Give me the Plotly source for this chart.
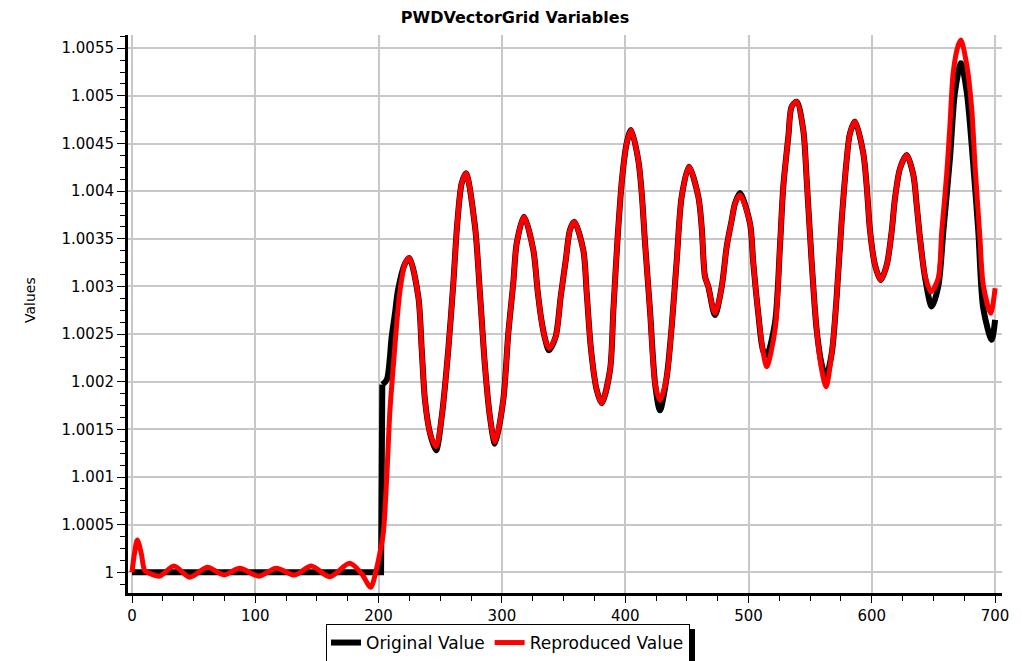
import plotly.graph_objects as go

# ---- data ----
x_rep = [0, 2, 4.3, 7.5, 10.3, 14.3, 22.4, 34, 46.8, 61, 74.6, 87.3, 103, 117, 132, 145.4,
         160.3, 176.5, 186, 193.6, 198, 201, 203.8, 206.6, 209.2, 211.9, 214.7, 217.4, 221.4,
         224.9, 232.2, 235.0, 237.6, 241.7, 246.6, 251.2, 256.5, 260.6, 263.8, 267.4, 270.9,
         278.2, 282.2, 286.3, 290.3, 294.4, 301.1, 305.2, 309.2, 312.0, 317.9, 325.5, 329, 332,
         335, 338.2, 343.6, 347.7, 351.8, 355.2, 358.7, 366.0, 368.8, 372.3, 376.9, 380.9,
         387.7, 390.4, 393.9, 397.6, 401.2, 404.7, 410.6, 413.4, 416.1, 420.1, 424.2, 428.2,
         433.7, 437.7, 441.8, 445.8, 451.7, 459.3, 462.0, 464.7, 467.4, 472.8, 478.3, 482.3,
         486.4, 489.1, 493.1, 501.2, 503.9, 507.9, 512.0, 514.8, 521.5, 525.5, 528.2, 532.3,
         535.0, 539.1, 544.4, 547.2, 551.3, 555.3, 559.4, 562.9, 567.5, 571.5, 575.6, 579.6,
         582.3, 586.4, 593.1, 595.9, 598.5, 602.6, 607.2, 612.1, 616.1, 618.8, 622.9, 628.3,
         633.7, 636.4, 639.1, 643.1, 648.0, 653.9, 656.7, 660.7, 663.4, 666.1, 670.2, 672.3,
         677.0, 681.0, 683.7, 687.7, 690.4, 696.4, 700]
y_rep = [1.0, 1.0002, 1.00034, 1.0002, 1.00002, 0.99999, 0.99996, 1.000066, 0.999948, 1.000052,
         0.999972, 1.000042, 0.99996, 1.000042, 0.999972, 1.000066, 0.999954, 1.000094, 0.99999,
         0.999843, 1.00002, 1.0002, 1.00041, 1.001, 1.0017, 1.00216, 1.00261, 1.00296, 1.00324,
         1.0033, 1.002893, 1.002333, 1.001808, 1.001459, 1.001318, 1.001633, 1.002333, 1.003033,
         1.003663, 1.004083, 1.004188, 1.003627, 1.002928, 1.002158, 1.001633, 1.001371,
         1.001808, 1.002509, 1.003033, 1.003453, 1.003732, 1.00338, 1.00295, 1.00265, 1.00245,
         1.002351, 1.002473, 1.002893, 1.003278, 1.003593, 1.00368, 1.003383, 1.002928, 1.002333,
         1.001913, 1.001774, 1.002123, 1.002753, 1.003522, 1.004152, 1.004503, 1.004642,
         1.004327, 1.003978, 1.003453, 1.002753, 1.001984, 1.001808, 1.002053, 1.002578,
         1.003278, 1.003942, 1.004257, 1.003942, 1.003627, 1.003103, 1.002998, 1.002718,
         1.002998, 1.003417, 1.003698, 1.003873, 1.00396, 1.003663, 1.003243, 1.002718,
         1.002299, 1.002158, 1.002543, 1.003417, 1.004047, 1.004572, 1.004887, 1.004939,
         1.004642, 1.004118, 1.003243, 1.002543, 1.002123, 1.001948, 1.002299, 1.002893,
         1.003698, 1.004327, 1.004608, 1.00473, 1.004398, 1.004047, 1.003593, 1.003225,
         1.003068, 1.003225, 1.003575, 1.003926, 1.00424, 1.00438, 1.00417, 1.003855, 1.003506,
         1.00312, 1.002945, 1.003086, 1.003575, 1.00417, 1.004695, 1.005254, 1.005535, 1.005587,
         1.005325, 1.00487, 1.004275, 1.003506, 1.003016, 1.002718, 1.002981]

x_orig = [0, 202, 203, 206.6, 210.6, 213.3, 215.7, 221.4, 224.9, 232.2, 235.0, 237.6, 241.7,
          246.6, 251.2, 256.5, 260.6, 263.8, 267.4, 270.9, 278.2, 282.2, 286.3, 290.3, 294.4,
          301.1, 305.2, 309.2, 312.0, 317.9, 325.5, 329, 332, 335, 338.2, 343.6, 347.7, 351.8,
          355.2, 358.7, 366.0, 368.8, 372.3, 376.9, 380.9, 387.7, 390.4, 393.9, 397.6, 401.2,
          404.7, 410.6, 413.4, 416.1, 420.1, 424.2, 428.2, 433.7, 437.7, 441.8, 445.8, 451.7,
          459.3, 462.0, 464.7, 467.4, 472.8, 478.3, 482.3, 486.4, 489.1, 493.1, 501.2, 503.9,
          507.9, 512.0, 514.8, 521.5, 525.5, 528.2, 532.3, 535.0, 539.1, 544.4, 547.2, 551.3,
          555.3, 559.4, 562.9, 567.5, 571.5, 575.6, 579.6, 582.3, 586.4, 593.1, 595.9, 598.5,
          602.6, 607.2, 612.1, 616.1, 618.8, 622.9, 628.3, 633.7, 636.4, 639.1, 643.1, 648.6,
          653.9, 658.0, 663.4, 667.5, 672.3, 677.0, 682.3, 686.4, 690.4, 697.2, 700]
y_orig = [1.0, 1.0, 1.00197, 1.00202, 1.00247, 1.00272, 1.00296, 1.00324, 1.0033, 1.002893,
          1.002333, 1.001808, 1.001459, 1.00128, 1.001633, 1.002333, 1.003033, 1.003663,
          1.004083, 1.004188, 1.003627, 1.002928, 1.002158, 1.001633, 1.00135, 1.001808,
          1.002509, 1.003033, 1.003453, 1.003732, 1.00338, 1.00295, 1.00265, 1.00245, 1.00233,
          1.002473, 1.002893, 1.003278, 1.003593, 1.00368, 1.003383, 1.002928, 1.002333,
          1.001913, 1.001774, 1.002123, 1.002753, 1.003522, 1.004152, 1.004503, 1.004642,
          1.004327, 1.003978, 1.003453, 1.002753, 1.001984, 1.0017, 1.002053, 1.002578,
          1.003278, 1.003942, 1.004257, 1.003942, 1.003627, 1.003103, 1.002998, 1.0027,
          1.002998, 1.003417, 1.003698, 1.003873, 1.00398, 1.003663, 1.003243, 1.002718,
          1.00232, 1.00228, 1.00262, 1.003417, 1.004047, 1.004572, 1.004887, 1.004939,
          1.004642, 1.004118, 1.003243, 1.002543, 1.00218, 1.00205, 1.002299, 1.002893,
          1.003698, 1.004327, 1.004608, 1.00473, 1.004398, 1.004047, 1.003593, 1.003225,
          1.003068, 1.003225, 1.003575, 1.003926, 1.00424, 1.00438, 1.00417, 1.003855, 1.003506,
          1.0031, 1.00279, 1.0030, 1.003575, 1.004345, 1.005044, 1.005343, 1.005044, 1.004275,
          1.003575, 1.002771, 1.00244, 1.00265]

y_tickvals = [1.0, 1.0005, 1.001, 1.0015, 1.002, 1.0025, 1.003, 1.0035, 1.004, 1.0045, 1.005, 1.0055]
y_ticktext = ["1", "1.0005", "1.001", "1.0015", "1.002", "1.0025", "1.003", "1.0035", "1.004",
              "1.0045", "1.005", "1.0055"]
x_tickvals = [0, 100, 200, 300, 400, 500, 600, 700]
x_ticktext = ["0", "100", "200", "300", "400", "500", "600", "700"]

# page body has an 8px margin: figure is placed at (8, 8) in the window
OFF = 8
W, H = 1022 - OFF, 661 - OFF
L, R, T, B = 128 - OFF, 20, 35 - OFF, 68
PW, PH = W - L - R, H - T - B


def cx(p):  # reference page pixel -> container fraction (x)
    return (p - OFF) / W


def cy(p):  # reference page pixel -> container fraction (y)
    return 1 - (p - OFF) / H


def px_x(p):
    return (p - OFF - L) / PW


def px_y(p):
    return (H - B - (p - OFF)) / PH


FONT = "DejaVu Sans"

fig = go.Figure()
fig.add_trace(go.Scatter(x=x_orig[:3], y=y_orig[:3], mode="lines", name="Original Value",
                         legendgroup="orig", showlegend=False,
                         line=dict(color="black", width=6)))
fig.add_trace(go.Scatter(x=x_orig[2:], y=y_orig[2:], mode="lines", name="Original Value",
                         legendgroup="orig",
                         line=dict(color="black", width=6, shape="spline", smoothing=0.8)))
fig.add_trace(go.Scatter(x=x_rep, y=y_rep, mode="lines", name="Reproduced Value",
                         line=dict(color="#ff0000", width=5, shape="spline", smoothing=0.8)))

fig.update_layout(
    width=W, height=H,
    margin=dict(l=L, r=R, t=T, b=B, autoexpand=False),
    paper_bgcolor="white", plot_bgcolor="white",
    font=dict(family=FONT, size=15, color="black"),
    title=dict(text="<b>PWDVectorGrid Variables</b>", x=cx(515), xanchor="center",
               y=cy(17), yanchor="middle", xref="container", yref="container",
               font=dict(family=FONT, size=16, color="black")),
    showlegend=True,
    legend=dict(orientation="h", xref="container", yref="container",
                x=cx(508), xanchor="center", y=cy(624), yanchor="top",
                bgcolor="white", bordercolor="black", borderwidth=1,
                font=dict(family=FONT, size=17, color="black"), itemwidth=30,
                tracegroupgap=0),
    xaxis=dict(range=[(128 - 132) / 1.233, (1002 - 132) / 1.233],
               tickvals=x_tickvals, ticktext=x_ticktext,
               showgrid=True, gridcolor="#c8c8c8", gridwidth=1.5,
               zeroline=False, showline=True, linecolor="black", linewidth=3,
               ticks="outside", ticklen=7, tickwidth=1, tickcolor="black",
               minor=dict(dtick=25, tick0=0, ticks="outside", ticklen=5, tickcolor="black",
                          showgrid=False),
               tickfont=dict(family=FONT, size=15)),
    yaxis=dict(range=[0.999783, 1.005639],
               tickvals=y_tickvals, ticktext=y_ticktext,
               showgrid=True, gridcolor="#c8c8c8", gridwidth=1.5,
               zeroline=False, showline=True, linecolor="black", linewidth=3,
               ticks="outside", ticklen=8, tickwidth=1, tickcolor="black",
               minor=dict(dtick=0.000125, tick0=1.0, ticks="outside", ticklen=5,
                          tickcolor="black", showgrid=False),
               tickfont=dict(family=FONT, size=15)),
)

fig.add_annotation(text="Values", xref="paper", yref="paper", x=px_x(30), y=px_y(300),
                   textangle=-90, showarrow=False, font=dict(family=FONT, size=14),
                   xanchor="center", yanchor="middle")

# legend drop shadow
fig.add_shape(type="rect", xref="paper", yref="paper",
              x0=px_x(331), x1=px_x(695), y0=px_y(664), y1=px_y(629),
              fillcolor="black", line=dict(width=0), layer="below")

fig.write_html("out.html")
